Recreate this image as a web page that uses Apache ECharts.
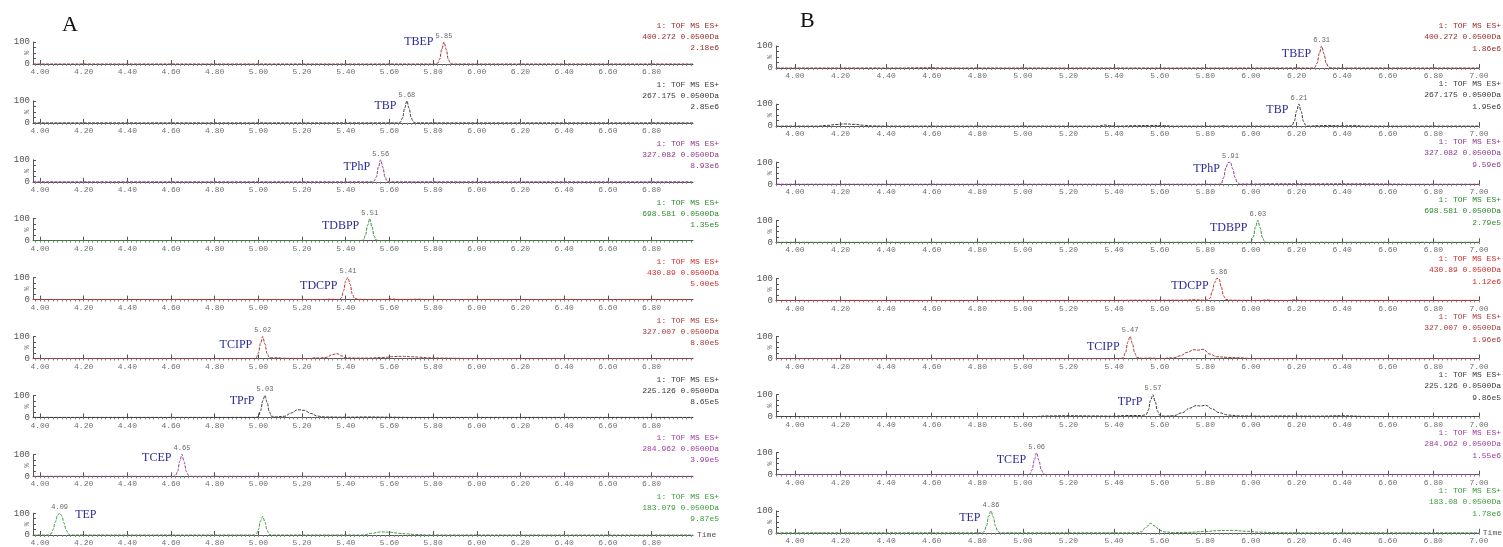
<!DOCTYPE html>
<html>
<head>
<meta charset="utf-8">
<script src="https://cdn.jsdelivr.net/npm/echarts@6/dist/echarts.min.js"></script>
<style>
html,body{margin:0;padding:0;background:#fff;}
#chart{width:1503px;height:547px;}
</style>
</head>
<body>
<div id="chart"></div>
<script>
// ---------------- DATA ----------------
const compounds = ['TBEP','TBP','TPhP','TDBPP','TDCPP','TCIPP','TPrP','TCEP','TEP'];
const rtA = [5.85,5.68,5.56,5.51,5.41,5.02,5.03,4.65,4.09];
const rtB = [6.31,6.21,5.91,6.03,5.86,5.47,5.57,5.06,4.86];
const massA = ['400.272','267.175','327.082','698.581','430.89','327.007','225.126','284.962','183.079'];
const massB = ['400.272','267.175','327.082','698.581','430.89','327.007','225.126','284.962','183.08'];
const intensityA = ['2.18e6','2.85e6','8.93e6','1.35e5','5.00e5','8.80e5','8.65e5','3.99e5','9.87e5'];
const intensityB = ['1.86e6','1.95e6','9.59e6','2.79e5','1.12e6','1.96e6','9.86e5','1.55e6','1.78e6'];
const tickLabelsA = ['4.00','4.20','4.40','4.60','4.80','5.00','5.20','5.40','5.60','5.80','6.00','6.20','6.40','6.60','6.80'];
const tickLabelsB = ['4.00','4.20','4.40','4.60','4.80','5.00','5.20','5.40','5.60','5.80','6.00','6.20','6.40','6.60','6.80','7.00'];

// chromatogram traces [time, % intensity]
const traceA_TBEP  = [[3.97,0],[5.81,0],[5.82,3],[5.83,22],[5.84,68],[5.85,100],[5.86,66],[5.87,20],[5.88,3],[5.89,0],[6.99,0]];
const traceA_TBP   = [[3.97,0],[5.64,0],[5.65,3],[5.66,22],[5.67,68],[5.68,100],[5.69,66],[5.70,22],[5.71,4],[5.72,0],[6.99,0]];
const traceA_TPhP  = [[3.97,0],[5.52,0],[5.53,3],[5.54,22],[5.55,68],[5.56,100],[5.57,66],[5.58,20],[5.59,3],[5.60,0],[6.99,0]];
const traceA_TDBPP = [[3.97,0],[5.47,0],[5.48,3],[5.49,24],[5.50,70],[5.51,100],[5.52,64],[5.53,20],[5.54,3],[5.55,0],[6.99,0]];
const traceA_TDCPP = [[3.97,0],[5.30,0],[5.33,2],[5.35,1],[5.37,1],[5.38,8],[5.39,40],[5.40,85],[5.41,100],[5.42,70],[5.43,25],[5.44,6],[5.46,1],[5.58,0],[5.61,3],[5.64,1],[5.70,1],[5.73,2],[5.77,0],[6.99,0]];
const traceA_TCIPP = [[3.97,0],[4.98,0],[4.99,3],[5.00,25],[5.01,70],[5.02,100],[5.03,66],[5.04,22],[5.05,5],[5.07,3],[5.09,4],[5.11,1],[5.24,0],[5.26,4],[5.28,2],[5.31,5],[5.34,18],[5.36,22],[5.38,12],[5.40,3],[5.44,2],[5.50,2],[5.58,5],[5.62,9],[5.66,10],[5.70,8],[5.74,6],[5.78,3],[5.84,2],[5.90,1],[5.96,0],[6.99,0]];
const traceA_TPrP  = [[3.97,0],[4.99,0],[5.00,4],[5.01,30],[5.02,75],[5.03,100],[5.04,68],[5.05,25],[5.06,5],[5.08,2],[5.12,5],[5.15,20],[5.18,35],[5.21,32],[5.24,18],[5.27,6],[5.30,2],[5.40,1],[5.50,2],[5.60,1],[5.70,0],[6.99,0]];
const traceA_TCEP  = [[3.97,0],[4.61,0],[4.62,3],[4.63,22],[4.64,68],[4.65,100],[4.66,66],[4.67,22],[4.68,4],[4.69,0],[6.99,0]];
const traceA_TEP   = [[3.97,0],[4.04,0],[4.05,5],[4.06,25],[4.07,60],[4.08,90],[4.09,100],[4.10,88],[4.11,55],[4.12,22],[4.13,5],[4.14,0],[4.98,0],[4.99,4],[5.00,25],[5.01,65],[5.02,85],[5.03,60],[5.04,20],[5.05,3],[5.06,0],[5.48,0],[5.52,8],[5.56,14],[5.60,13],[5.64,8],[5.68,5],[5.72,2],[5.78,0],[6.99,0]];

const traceB_TBEP  = [[3.92,0],[4.48,0],[4.52,1],[4.60,1],[4.64,0],[6.27,0],[6.28,3],[6.29,22],[6.30,68],[6.31,100],[6.32,66],[6.33,22],[6.34,5],[6.35,1],[6.37,0],[7.00,0]];
const traceB_TBP   = [[3.92,0],[4.10,0],[4.14,3],[4.18,7],[4.22,10],[4.26,8],[4.30,4],[4.34,1],[4.40,0],[5.33,0],[5.36,5],[5.38,2],[5.41,0],[5.50,2],[5.56,3],[5.62,2],[5.66,0],[5.86,0],[5.88,2],[5.90,0],[6.17,0],[6.18,3],[6.19,22],[6.20,68],[6.21,100],[6.22,66],[6.23,22],[6.24,4],[6.25,0],[6.30,2],[6.34,3],[6.40,1],[6.46,2],[6.50,0],[7.00,0]];
const traceB_TPhP  = [[3.92,0],[5.86,0],[5.87,4],[5.88,30],[5.89,75],[5.90,98],[5.91,100],[5.92,70],[5.93,30],[5.94,8],[5.95,1],[6.00,1],[6.10,2],[6.30,2],[6.50,2],[6.60,1],[6.70,0],[7.00,0]];
const traceB_TDBPP = [[3.92,0],[5.99,0],[6.00,3],[6.01,24],[6.02,70],[6.03,100],[6.04,66],[6.05,22],[6.06,4],[6.07,0],[7.00,0]];
const traceB_TDCPP = [[3.92,0],[5.40,0],[5.50,1],[5.70,1],[5.76,3],[5.79,1],[5.81,2],[5.82,10],[5.83,40],[5.84,80],[5.85,100],[5.86,98],[5.87,60],[5.88,20],[5.89,4],[5.91,1],[6.04,0],[6.07,2],[6.10,0],[6.16,0],[6.19,2],[6.23,0],[7.00,0]];
const traceB_TCIPP = [[3.92,0],[5.43,0],[5.44,4],[5.45,28],[5.46,75],[5.47,100],[5.48,68],[5.49,25],[5.50,5],[5.52,1],[5.56,2],[5.60,0],[5.66,3],[5.69,12],[5.72,28],[5.75,40],[5.77,38],[5.79,42],[5.82,20],[5.85,8],[5.90,5],[5.95,3],[6.00,0],[7.00,0]];
const traceB_TPrP  = [[3.92,0],[5.05,0],[5.10,3],[5.20,4],[5.30,3],[5.40,2],[5.45,5],[5.52,5],[5.54,8],[5.55,30],[5.56,75],[5.57,100],[5.58,68],[5.59,25],[5.60,6],[5.62,2],[5.66,4],[5.70,18],[5.73,38],[5.76,50],[5.78,48],[5.80,52],[5.83,35],[5.86,18],[5.90,7],[5.95,3],[6.05,2],[6.15,3],[6.30,2],[6.40,4],[6.50,1],[6.60,0],[7.00,0]];
const traceB_TCEP  = [[3.92,0],[5.02,0],[5.03,3],[5.04,22],[5.05,68],[5.06,100],[5.07,66],[5.08,22],[5.09,4],[5.10,0],[7.00,0]];
const traceB_TEP   = [[3.92,0],[4.82,0],[4.83,5],[4.84,30],[4.85,75],[4.86,100],[4.87,72],[4.88,30],[4.89,6],[4.90,0],[5.50,0],[5.52,5],[5.54,25],[5.56,43],[5.58,30],[5.60,12],[5.62,4],[5.66,1],[5.72,2],[5.80,6],[5.86,10],[5.92,11],[5.98,7],[6.04,3],[6.10,1],[6.20,0],[7.00,0]];

const tracesA = [traceA_TBEP,traceA_TBP,traceA_TPhP,traceA_TDBPP,traceA_TDCPP,traceA_TCIPP,traceA_TPrP,traceA_TCEP,traceA_TEP];
const tracesB = [traceB_TBEP,traceB_TBP,traceB_TPhP,traceB_TDBPP,traceB_TDCPP,traceB_TCIPP,traceB_TPrP,traceB_TCEP,traceB_TEP];

// ---------------- LAYOUT / STYLE ----------------
const rowColors = ['#9b2b2b','#3a3a3a','#8e3a8e','#2e8b2e','#d42a2a','#a83a3a','#3a3a3a','#a03ca0','#3c9a3c'];
const panels = [
  {key:'A', traces:tracesA, rt:rtA, mass:massA, inten:intensityA, ticks:tickLabelsA,
   left:33, width:660, min:3.968, max:6.99, base0:64, step:58.9, textRight:719, textOff:[-38,-27,-16],
   nameLevel:[100,79,66,68,64,64,73,82,91], nameSide:['l','l','l','l','l','l','l','l','r'],
   letter:{x:62,y:25}},
  {key:'B', traces:tracesB, rt:rtB, mass:massB, inten:intensityB, ticks:tickLabelsB,
   left:776, width:703, min:3.917, max:7.0, base0:68, step:58.1, textRight:1501, textOff:[-42,-31,-19],
   nameLevel:[64,73,68,64,64,55,68,68,68], nameSide:['l','l','l','l','l','l','l','l','l'],
   letter:{x:800,y:21}}
];
const PLOT_H = 22;
const MONO = '"Liberation Mono", "DejaVu Sans Mono", monospace';
const SERIF = '"Liberation Serif", "DejaVu Serif", serif';

const grids = [], xAxes = [], yAxes = [], series = [], graphics = [];

panels.forEach((p) => {
  const majorVals = p.ticks.map(Number);
  const minorVals = [];
  for (let k = Math.ceil(p.min * 50); k <= Math.floor(p.max * 50); k++) minorVals.push(k / 50);
  p.traces.forEach((tr, i) => {
    const base = p.base0 + p.step * i;
    const gi = grids.length;
    grids.push({left:p.left, width:p.width, top:base - PLOT_H, height:PLOT_H, containLabel:false});
    const last = i === p.traces.length - 1;
    const xi = xAxes.length;
    xAxes.push({
      type:'value', gridIndex:gi, min:p.min, max:p.max,
      axisLine:{show:true, onZero:false, lineStyle:{color:'#555', width:1}},
      axisTick:{show:true, inside:true, length:4, customValues:majorVals, lineStyle:{color:'#555'}},
      axisLabel:{show:true, customValues:majorVals, margin:4, color:'#707070', fontFamily:MONO, fontSize:8,
                 formatter:(v)=>v.toFixed(2)},
      splitLine:{show:false},
      name: last ? 'Time' : '', nameLocation:'end', nameGap:4,
      nameTextStyle:{color:'#555', fontFamily:MONO, fontSize:8}
    });
    xAxes.push({
      type:'value', gridIndex:gi, min:p.min, max:p.max,
      axisLine:{show:false},
      axisTick:{show:true, inside:true, length:2, customValues:minorVals, lineStyle:{color:'#888'}},
      axisLabel:{show:false}, splitLine:{show:false}
    });
    const yi = yAxes.length;
    yAxes.push({
      type:'value', gridIndex:gi, min:0, max:100,
      axisLine:{show:true, lineStyle:{color:'#555', width:1}},
      axisTick:{show:true, inside:true, length:3, customValues:[0,25,50,75,100], lineStyle:{color:'#555'}},
      axisLabel:{show:true, customValues:[0,100], margin:3, color:'#555', fontFamily:MONO, fontSize:9},
      splitLine:{show:false}
    });
    // rotated "%" unit mark beside the y axis
    graphics.push({type:'text', x:p.left - 6, y:base - PLOT_H / 2, rotation:Math.PI / 2, silent:true,
      style:{text:'%', align:'center', verticalAlign:'middle', textAlign:'center', textVerticalAlign:'middle',
             fill:'#777', font:'7px ' + MONO}});
    const color = rowColors[i];
    const rt = p.rt[i];
    const side = p.nameSide[i];
    series.push({
      type:'line', xAxisIndex:xi, yAxisIndex:yi, data:tr,
      showSymbol:false, smooth:0.4, smoothMonotone:'x', silent:true,
      lineStyle:{color:color, width:1, type:[3,1.2]},
      markPoint:{
        silent:true, animation:false,
        data:[
          {coord:[rt,100], symbol:'circle', symbolSize:1, itemStyle:{color:'rgba(0,0,0,0)'},
           label:{show:true, position:'top', distance:2, formatter:rt.toFixed(2), color:'#666', fontFamily:MONO, fontSize:7}},
          {coord:[rt,p.nameLevel[i]], symbol:'circle', symbolSize:1, itemStyle:{color:'rgba(0,0,0,0)'},
           label:{show:true, position: side==='l' ? 'left' : 'right', distance: side==='l' ? 10 : 15,
                  formatter:compounds[i], color:'#2b2b9a', fontFamily:SERIF, fontSize:12}}
        ]
      }
    });
    const lines = ['1: TOF MS ES+', p.mass[i] + ' 0.0500Da', p.inten[i]];
    lines.forEach((t, k) => {
      graphics.push({type:'text', x:p.textRight, y:base + p.textOff[k], silent:true,
        style:{text:t, align:'right', verticalAlign:'middle', textAlign:'right', textVerticalAlign:'middle',
               fill:color, font:'8px ' + MONO}});
    });
  });
  graphics.push({type:'text', x:p.letter.x, y:p.letter.y, silent:true,
    style:{text:p.key, align:'left', verticalAlign:'middle', textAlign:'left', textVerticalAlign:'middle',
           fill:'#111', font:'22px ' + SERIF}});
});

const chart = echarts.init(document.getElementById('chart'), null, {renderer:'canvas'});
chart.setOption({
  animation:false,
  backgroundColor:'#fff',
  grid:grids, xAxis:xAxes, yAxis:yAxes, series:series, graphic:graphics
});
</script>
</body>
</html>
